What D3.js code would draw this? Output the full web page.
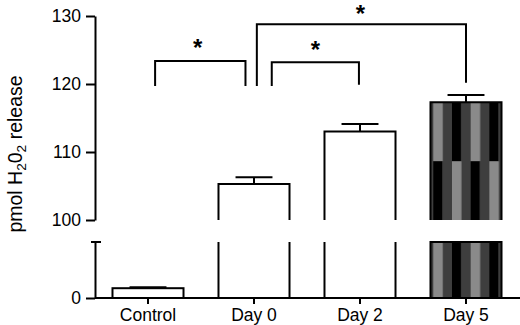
<!DOCTYPE html>
<html><head><meta charset="utf-8">
<script src="https://cdn.jsdelivr.net/npm/d3@7"></script>
<style>body{margin:0;background:#fff}svg{display:block}text{font-family:"Liberation Sans",Arial,sans-serif}</style>
</head><body><svg width="520" height="325"></svg>
<script>
const categories = ["Control","Day 0","Day 2","Day 5"];
const means = [1.4, 105.3, 113.0, 117.3];
const sems = [0.15, 1.0, 1.1, 1.1];
const upperTicks = [100,110,120,130];
const lowerTicks = [0];
const patterned = ["Day 5"];
// brackets: [cat1, fraction in band1, cat2, fraction in band2, level, leg1 end, leg2 end]
const brackets = [
  ["Control",0.6,"Day 0",0.38,123.4,119.7,119.7],
  ["Day 0",0.54,"Day 5",0.5,128.8,119.7,120.2],
  ["Day 0",0.75,"Day 2",0.485,123.2,119.7,119.9]
];
const starOffsets = [-2.5, -1, 0];

const svg = d3.select("svg");
const x = d3.scaleBand(categories,[95,519]).paddingInner(0.33).paddingOuter(0.165);
const yUp = d3.scaleLinear().domain([100,130]).range([220,16]);
const yLow = d3.scaleLinear().domain([0,8]).range([298,242]);
const bw = x.bandwidth();
const font = 17.5;

// patterns
const defs = svg.append("defs");
const s = bw/7.6;
const colors = {L:"#8a8a8a", D:"#3e3e3e", B:"#000"};
function makePattern(id, x0, y0, rowH, rows){
  const p = defs.append("pattern").attr("id",id).attr("patternUnits","userSpaceOnUse")
    .attr("x",x0).attr("y",y0).attr("width",4*s).attr("height",rowH*rows.length);
  rows.forEach((r,ri)=>{
    r.split("").forEach((c,ci)=>{
      p.append("rect").attr("x",ci*s).attr("y",ri*rowH).attr("width",s+0.3).attr("height",rowH+0.3).attr("fill",colors[c]);
    });
  });
}

categories.forEach((c,i)=>{
  const v = means[i], e = sems[i];
  const l = x(c), r = l + bw, cx = l + bw/2;
  const g = svg.append("g");
  const isPat = patterned.includes(c);
  if (v <= 8) {
    g.append("rect").attr("x",l).attr("y",yLow(v)).attr("width",bw).attr("height",yLow(0)-yLow(v))
      .attr("fill","#fff").attr("stroke","#000").attr("stroke-width",2);
    g.append("line").attr("x1",cx).attr("x2",cx).attr("y1",yLow(v)).attr("y2",yLow(v+e)).attr("stroke","#000").attr("stroke-width",2);
    g.append("line").attr("x1",cx-bw*0.26).attr("x2",cx+bw*0.26).attr("y1",yLow(v+e)).attr("y2",yLow(v+e)).attr("stroke","#000").attr("stroke-width",2);
  } else {
    const top = yUp(v);
    let fill = "#fff", fillLow = "#fff";
    if (isPat) {
      const rowH = (yUp(100)-top)/2;
      makePattern("pu"+i, l+2.8, top, rowH, ["LDBD","BDLD"]);
      makePattern("pl"+i, l+2.8, yLow(8), 200, ["LDBD"]);
      fill = "url(#pu"+i+")"; fillLow = "url(#pl"+i+")";
    }
    g.append("rect").attr("x",l).attr("y",top).attr("width",bw).attr("height",yUp(100)-top).attr("fill",fill);
    g.append("path").attr("d",`M${l},${yUp(100)}V${top}H${r}V${yUp(100)}`).attr("fill","none").attr("stroke","#000").attr("stroke-width",2);
    g.append("rect").attr("x",l).attr("y",yLow(8)).attr("width",bw).attr("height",yLow(0)-yLow(8)).attr("fill",fillLow);
    if (isPat) {
      g.append("path").attr("d",`M${l},${yLow(0)}V${yLow(8)}H${r}V${yLow(0)}`).attr("fill","none").attr("stroke","#000").attr("stroke-width",2);
    } else {
      g.append("line").attr("x1",l).attr("x2",l).attr("y1",yLow(8)).attr("y2",yLow(0)).attr("stroke","#000").attr("stroke-width",2);
      g.append("line").attr("x1",r).attr("x2",r).attr("y1",yLow(8)).attr("y2",yLow(0)).attr("stroke","#000").attr("stroke-width",2);
    }
    g.append("line").attr("x1",cx).attr("x2",cx).attr("y1",top).attr("y2",yUp(v+e)).attr("stroke","#000").attr("stroke-width",2);
    g.append("line").attr("x1",cx-bw*0.26).attr("x2",cx+bw*0.26).attr("y1",yUp(v+e)).attr("y2",yUp(v+e)).attr("stroke","#000").attr("stroke-width",2);
  }
});

// axes
function styleAxis(g){
  g.selectAll("path,line").attr("stroke","#000").attr("stroke-width",2);
  g.selectAll("text").attr("font-size",font).attr("fill","#000").style("font-family",'"Liberation Sans",Arial,sans-serif');
}
svg.append("g").attr("transform","translate(95,0)")
  .call(d3.axisLeft(yUp).tickValues(upperTicks).tickSize(9).tickSizeOuter(0).tickPadding(5))
  .call(styleAxis);
svg.append("g").attr("transform","translate(95,0)")
  .call(d3.axisLeft(yLow).tickValues(lowerTicks).tickSize(9).tickSizeOuter(0).tickPadding(5))
  .call(styleAxis);
svg.append("line").attr("x1",91).attr("x2",101).attr("y1",yLow(8)).attr("y2",yLow(8)).attr("stroke","#000").attr("stroke-width",2);
const xg = svg.append("g").attr("transform",`translate(0,${yLow(0)})`)
  .call(d3.axisBottom(x).tickSize(6).tickSizeOuter(0).tickPadding(5))
  .call(styleAxis);
xg.select(".domain").attr("d","M95,0H520");

// y title
const tf = 19.5;
const yt = svg.append("text").attr("transform","translate(22,154) rotate(-90)").attr("text-anchor","middle")
  .attr("font-size",tf).attr("fill","#000");
yt.append("tspan").text("pmol H");
yt.append("tspan").attr("font-size",tf*0.7).attr("dy",4).text("2");
yt.append("tspan").attr("dy",-4).text("0");
yt.append("tspan").attr("font-size",tf*0.7).attr("dy",4).text("2");
yt.append("tspan").attr("dy",-4).text(" release");

// brackets
const starSize = 24;
brackets.forEach((b,i)=>{
  const x1 = x(b[0]) + bw*b[1], x2 = x(b[2]) + bw*b[3];
  const yl = yUp(b[4]);
  svg.append("path").attr("d",`M${x1},${yUp(b[5])}V${yl}H${x2}V${yUp(b[6])}`)
    .attr("fill","none").attr("stroke","#000").attr("stroke-width",2);
  svg.append("text").attr("x",(x1+x2)/2 + starOffsets[i]).attr("y",Math.max(yl-4.5, starSize*0.92))
    .attr("text-anchor","middle").attr("font-weight","bold")
    .attr("font-size",starSize).attr("fill","#000").text("*");
});
</script></body></html>
